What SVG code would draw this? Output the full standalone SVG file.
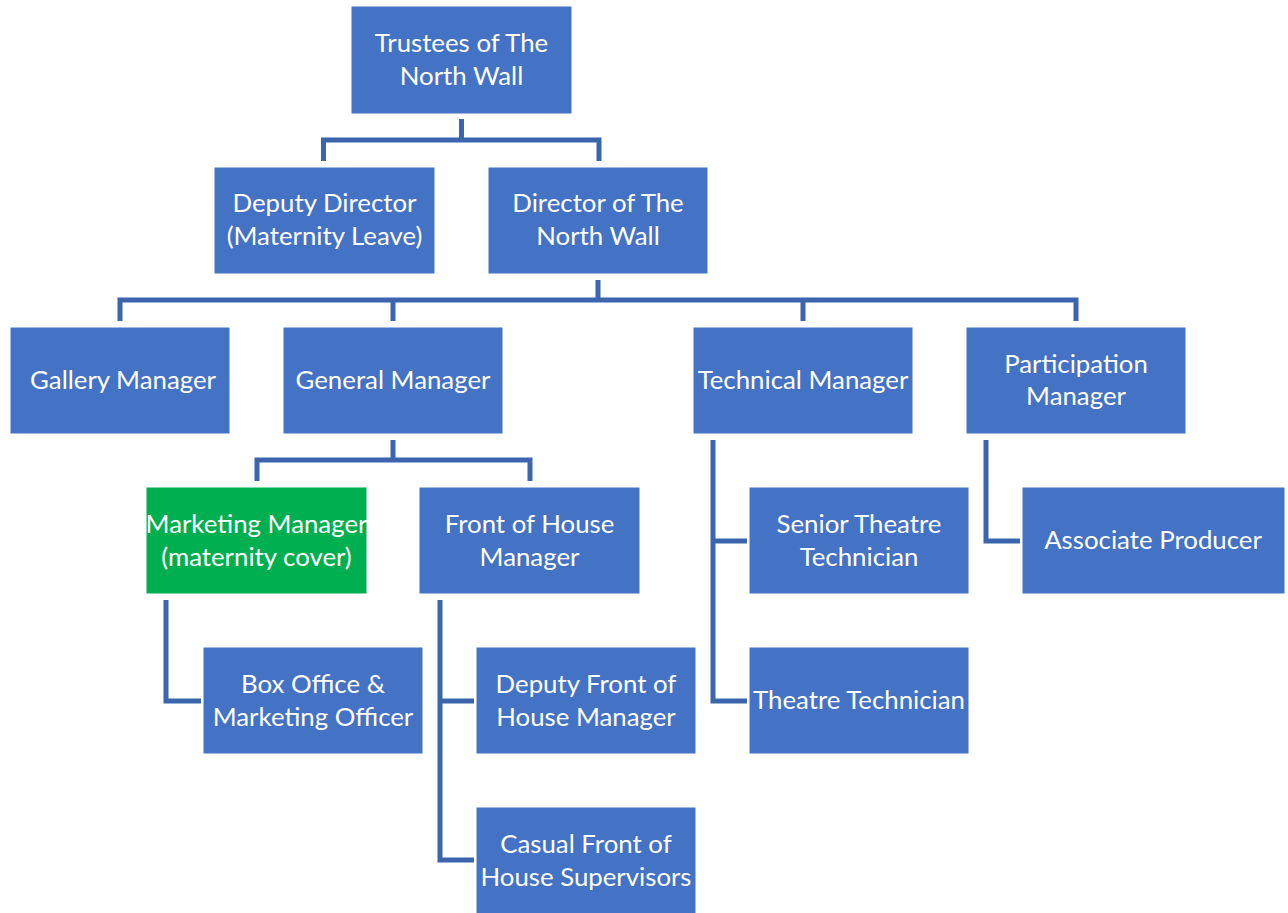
<svg xmlns="http://www.w3.org/2000/svg" width="1288" height="913" viewBox="0 0 1288 913">
<style>
.b{fill:#4472C4;stroke:#ffffff;stroke-width:1}
.g{fill:#00B050;stroke:#ffffff;stroke-width:1}
.t{font-family:Lato,"Open Sans",sans-serif;font-size:25.8px;fill:#ffffff;text-anchor:middle}
.c{fill:none;stroke:#3B65AD;stroke-width:5;stroke-linejoin:miter}
</style>
<rect width="1288" height="913" fill="#ffffff"/>
<g id="connectors">
<path class="c" d="M461.5,119 V140 M323.5,161 V140 H599 V161"/>
<path class="c" d="M598,280 V300 M120,321 V300 H1076 V321 M393,300 V321 M803,300 V321"/>
<path class="c" d="M393,440 V460 M257,481 V460 H530 V481"/>
<path class="c" d="M166,600 V701 H201"/>
<path class="c" d="M440,600 V860 H474 M440,701 H474"/>
<path class="c" d="M713,440 V701 H747 M713,541 H747"/>
<path class="c" d="M986,440 V541 H1020"/>
</g>
<g id="trustees"><rect class="b" x="351" y="6" width="221" height="108"/><text class="t" x="461.5" y="52">Trustees of The</text><text class="t" x="461.5" y="85">North Wall</text></g>
<g id="deputy-director"><rect class="b" x="214" y="167" width="221" height="107"/><text class="t" x="324.5" y="212">Deputy Director</text><text class="t" x="324.5" y="245">(Maternity Leave)</text></g>
<g id="director"><rect class="b" x="488" y="167" width="220" height="107"/><text class="t" x="598" y="212">Director of The</text><text class="t" x="598" y="245">North Wall</text></g>
<g id="gallery-manager"><rect class="b" x="10" y="327" width="220" height="107"/><text class="t" x="123" y="389">Gallery Manager</text></g>
<g id="general-manager"><rect class="b" x="283" y="327" width="220" height="107"/><text class="t" x="393" y="389">General Manager</text></g>
<g id="technical-manager"><rect class="b" x="693" y="327" width="220" height="107"/><text class="t" x="803" y="389">Technical Manager</text></g>
<g id="participation-manager"><rect class="b" x="966" y="327" width="220" height="107"/><text class="t" x="1076" y="373">Participation</text><text class="t" x="1076" y="405">Manager</text></g>
<g id="marketing-manager"><rect class="g" x="146" y="487" width="221" height="107"/><text class="t" x="256.5" y="533">Marketing Manager</text><text class="t" x="256.5" y="566">(maternity cover)</text></g>
<g id="front-of-house-manager"><rect class="b" x="419" y="487" width="221" height="107"/><text class="t" x="529.5" y="533">Front of House</text><text class="t" x="529.5" y="566">Manager</text></g>
<g id="senior-theatre-technician"><rect class="b" x="749" y="487" width="220" height="107"/><text class="t" x="859" y="533">Senior Theatre</text><text class="t" x="859" y="566">Technician</text></g>
<g id="associate-producer"><rect class="b" x="1022" y="487" width="263" height="107"/><text class="t" x="1153" y="549">Associate Producer</text></g>
<g id="box-office"><rect class="b" x="203" y="647" width="220" height="107"/><text class="t" x="313" y="693">Box Office &amp;</text><text class="t" x="313" y="726">Marketing Officer</text></g>
<g id="deputy-foh"><rect class="b" x="476" y="647" width="220" height="107"/><text class="t" x="586" y="693">Deputy Front of</text><text class="t" x="586" y="726">House Manager</text></g>
<g id="theatre-technician"><rect class="b" x="749" y="647" width="220" height="107"/><text class="t" x="859" y="709">Theatre Technician</text></g>
<g id="casual-foh"><rect class="b" x="476" y="807" width="220" height="107"/><text class="t" x="586" y="853">Casual Front of</text><text class="t" x="586" y="886">House Supervisors</text></g>
</svg>
